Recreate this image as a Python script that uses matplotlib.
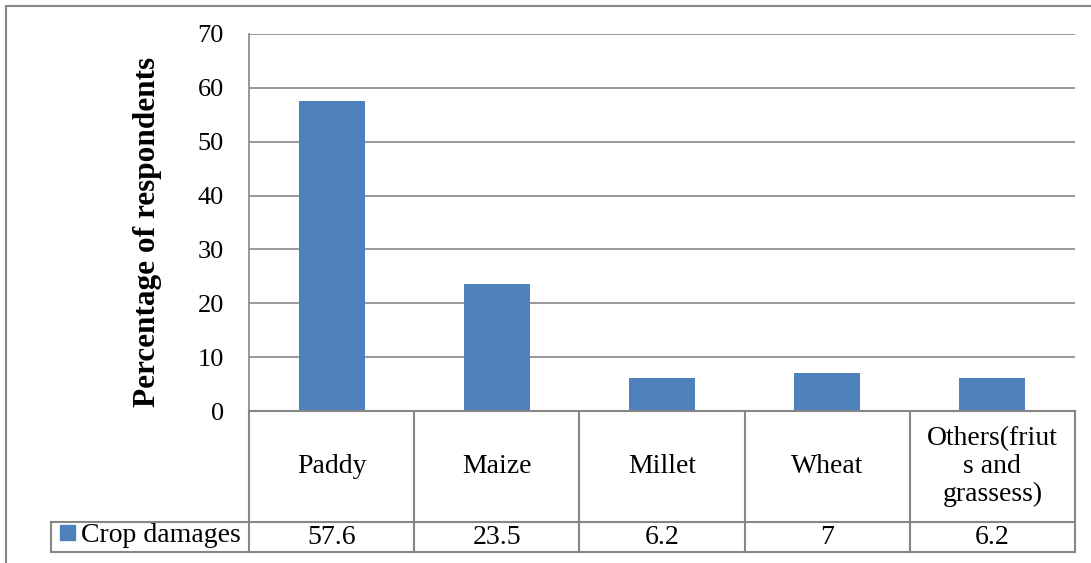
import matplotlib.pyplot as plt
from matplotlib.transforms import blended_transform_factory
from matplotlib.patches import Rectangle

categories = ["Paddy", "Maize", "Millet", "Wheat", "Others(friut\ns and\ngrassess)"]
values = [57.6, 23.5, 6.2, 7, 6.2]
value_labels = ["57.6", "23.5", "6.2", "7", "6.2"]
series_name = "Crop damages"
y_ticks = [0, 10, 20, 30, 40, 50, 60, 70]

BAR = "#4F81BD"
GRID = "#868686"
FONT = "Liberation Serif"
FS = 20

W, H = 1091, 563
fig = plt.figure(figsize=(W / 100, H / 100), dpi=100)

# plot area in pixels: x 249..1075, y 34..411
ax = fig.add_axes([249 / W, 1 - 411 / H, (1075 - 249) / W, (411 - 34) / H])
x = range(len(categories))
ax.bar(x, values, width=0.4, color=BAR, zorder=3)
ax.set_xlim(-0.5, len(categories) - 0.5)
ax.set_ylim(0, 70)
ax.set_yticks(y_ticks)
ax.set_yticklabels([str(t) for t in y_ticks], fontsize=19, family=FONT)
ax.tick_params(axis="y", length=0, pad=18)
ax.set_xticks([])
ax.grid(axis="y", color=GRID, linewidth=1.2, zorder=0)
for s in ["top", "right", "bottom"]:
    ax.spines[s].set_visible(False)
ax.spines["left"].set_color(GRID)
ax.spines["left"].set_linewidth(1.2)

fig.text(147 / W, 1 - 232 / H, "Percentage of respondents", rotation=90,
         ha="center", va="center", fontsize=22.5, fontweight="bold", family=FONT)

# data table below the plot
tr = blended_transform_factory(ax.transData, ax.transAxes)
ph = 411 - 34
y_top = 0.0
y_mid = (411 - 522) / ph
y_bot = (411 - 552) / ph
x_left_legend = -0.5 - (249 - 51) / ((1075 - 249) / len(categories))
n = len(categories)
lw = 1.5
line_kw = dict(color=GRID, linewidth=lw, transform=tr, clip_on=False, zorder=4)

ax.plot([-0.5, n - 0.5], [y_top, y_top], **line_kw)
ax.plot([x_left_legend, n - 0.5], [y_mid, y_mid], **line_kw)
ax.plot([x_left_legend, n - 0.5], [y_bot, y_bot], **line_kw)
ax.plot([x_left_legend, x_left_legend], [y_mid, y_bot], **line_kw)
for i in range(n + 1):
    ax.plot([i - 0.5, i - 0.5], [y_top, y_bot], **line_kw)

for i, (c, v) in enumerate(zip(categories, value_labels)):
    ax.text(i, (y_top + y_mid) / 2, c, transform=tr, ha="center", va="center",
            fontsize=FS, family=FONT, linespacing=1.15)
    ax.text(i, (y_mid + y_bot) / 2, v, transform=tr, ha="center", va="center",
            fontsize=FS, family=FONT)

# legend key in the table's first column
fig.patches.append(Rectangle((60 / W, 1 - 540 / H), 15 / W, 15 / H,
                             transform=fig.transFigure, color=BAR))
fig.text(81 / W, 1 - 535 / H, series_name, ha="left", va="center",
         fontsize=FS, family=FONT)

# outer chart border
fig.patches.append(Rectangle((6 / W, -0.01), 1.1, 1 - 5.5 / H + 0.01,
                             transform=fig.transFigure, fill=False,
                             edgecolor=GRID, linewidth=1.5))

fig.savefig("out.png", dpi=100)
